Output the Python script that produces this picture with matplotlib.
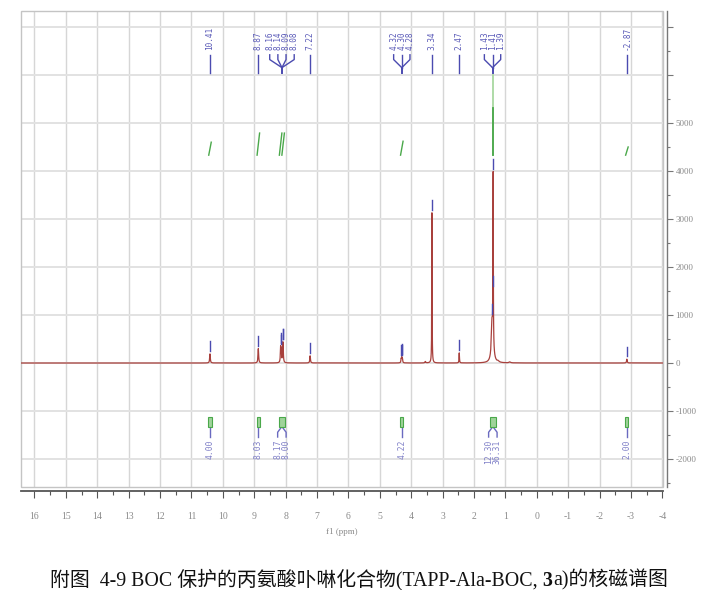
import numpy as np
import matplotlib
matplotlib.use("Agg")
import matplotlib.pyplot as plt
from matplotlib.patches import Rectangle
from matplotlib.ticker import MultipleLocator, FuncFormatter
from matplotlib.offsetbox import TextArea, HPacker, AnnotationBbox
import matplotlib.transforms as mtransforms

plt.rcParams["axes.unicode_minus"] = False

# ---------------- data ----------------
peak_ppm = [10.41, 8.87, 8.16, 8.14, 8.09, 8.08, 7.22, 4.32, 4.30, 4.28,
            3.55, 3.34, 2.47, 1.43, 1.41, 1.39, 1.23, 0.86, -2.87]
peak_height = [190, 300, 300, 250, 300, 230, 150, 80, 100, 80,
               30, 3130, 210, 450, 500, 3500, 25, 20, 80]
peak_gamma = [0.012, 0.012, 0.010, 0.010, 0.010, 0.010, 0.012, 0.010, 0.010, 0.010,
              0.015, 0.006, 0.008, 0.020, 0.040, 0.006, 0.03, 0.03, 0.012]

pick_groups = [["10.41"], ["8.87"], ["8.16", "8.14", "8.09", "8.08"], ["7.22"],
               ["4.32", "4.30", "4.28"], ["3.34"], ["2.47"],
               ["1.43", "1.41", "1.39"], ["-2.87"]]

integral_ppm = [10.41, 8.87, 8.16, 8.08, 4.30, 1.40, -2.87]
integral_rise = [270, 460, 460, 460, 290, 1670, 170]

region_ppm = [10.41, 8.87, 8.12, 4.30, 1.40, -2.87]
region_values = [["4.00"], ["8.03"], ["8.17", "8.00"], ["4.22"], ["12.30", "36.31"], ["2.00"]]

x_ticks = list(range(16, -5, -1))
y_ticks = list(range(-2000, 8000, 1000))

caption_a = "附图  4-9 BOC 保护的丙氨酸卟啉化合物(TAPP-Ala-BOC,"
caption_b = "3"
caption_c = "a)的核磁谱图"

# ---------------- figure ----------------
W, H = 713, 590
fig = plt.figure(figsize=(W / 100, H / 100), dpi=100)
ax = fig.add_axes([21 / W, 103 / H, 642 / W, 476 / H])

x = np.linspace(-4.3, 16.6, 42000)
y = np.zeros_like(x)
for p, h, g in zip(peak_ppm, peak_height, peak_gamma):
    y += h * g ** 2 / ((x - p) ** 2 + g ** 2)

ax.plot(x, y, color="#a8403c", lw=0.9, zorder=3)

ax.set_xlim(16.43, -4.02)
ax.set_ylim(-2583, 7333)

# grid
ax.xaxis.set_major_locator(MultipleLocator(1))
ax.xaxis.set_minor_locator(MultipleLocator(0.5))
ax.yaxis.set_major_locator(MultipleLocator(1000))
ax.yaxis.set_minor_locator(MultipleLocator(500))
ax.xaxis.grid(True, which="major", color="#d6d6d6", lw=1.0, zorder=0)
ax.yaxis.grid(True, which="major", color="#e2e2e2", lw=1.4, zorder=0)
ax.set_axisbelow(True)

# spines / frame
for s in ("top", "left"):
    ax.spines[s].set_visible(False)
ax.add_patch(Rectangle((0, 0), 1, 1, transform=ax.transAxes, fill=False,
                       ec="#c4c4c4", lw=1.0, clip_on=False, zorder=1))
ax.spines["bottom"].set_position(("outward", 3))
ax.spines["bottom"].set_color("#555555")
ax.spines["bottom"].set_linewidth(1.3)
ax.spines["right"].set_position(("outward", 3))
ax.spines["right"].set_color("#777777")
ax.spines["right"].set_linewidth(1.0)

ax.yaxis.tick_right()
ax.tick_params(axis="x", which="major", length=5, width=0.8, color="#555555",
               labelsize=7, labelcolor="#8a8a8a", pad=10)
ax.tick_params(axis="x", which="minor", length=3, width=0.8, color="#555555")
ax.tick_params(axis="y", which="major", length=4, width=0.8, color="#777777",
               labelsize=6.5, labelcolor="#8a8a8a", pad=2)
ax.tick_params(axis="y", which="minor", length=2.5, width=0.8, color="#777777")
ax.set_xticks(x_ticks)
ax.xaxis.set_major_formatter(FuncFormatter(lambda v, _: f"{int(round(v))}"))
ax.set_yticks(y_ticks)
ax.yaxis.set_major_formatter(FuncFormatter(lambda v, _: f"{int(round(v))}" if v <= 5000 else ""))
for lab in ax.get_xticklabels() + ax.get_yticklabels():
    lab.set_family("Liberation Serif")
ax.set_xlabel("f1 (ppm)", fontsize=6.5, color="#8a8a8a", labelpad=5, family="Liberation Serif")

trans = mtransforms.blended_transform_factory(ax.transData, ax.transAxes)
blue = "#4b4bb0"

# peak-pick ticks above peaks
for grp in pick_groups:
    for lab in grp:
        p = float(lab)
        i = np.argmin(np.abs(x - p))
        h = y[max(i - 20, 0):i + 20].max()
        ax.plot([p, p], [h + 60, h + 260], color=blue, lw=1.0, zorder=4)

# peak labels at top
spacing = 0.26
for grp in pick_groups:
    vals = [float(v) for v in grp]
    c = float(np.mean(vals))
    n = len(grp)
    for k, lab in enumerate(grp):
        lx = c + ((n - 1) / 2 - k) * spacing
        ax.text(lx, 0.918, lab, rotation=90, ha="center", va="bottom", transform=trans,
                fontsize=5.6, color="#5a5ab8", family="DejaVu Sans Mono")
        if n == 1:
            ax.plot([lx, lx], [0.908, 0.870], transform=trans, color=blue, lw=1.0)
        else:
            ax.plot([lx, lx, c], [0.908, 0.898, 0.881], transform=trans, color=blue, lw=1.0)
    if n > 1:
        ax.plot([c, c], [0.881, 0.870], transform=trans, color=blue, lw=1.4)

# integral curves (green)
base = 4330
for p, r in zip(integral_ppm, integral_rise):
    if r > 1000:
        ax.plot([p, p], [base, base + r], color="#a8d8a0", lw=1.3, zorder=2)
        ax.plot([p, p], [base, base + 980], color="#4aa84a", lw=1.3, zorder=2)
    else:
        ax.plot([p + 0.04, p - 0.04], [base, base + r], color="#4aa84a", lw=1.0, zorder=2)

# integration regions and values at bottom
green = "#4aa84a"
for p, vals in zip(region_ppm, region_values):
    w = 0.05 if len(vals) == 1 else 0.09
    ax.add_patch(Rectangle((p + w, 0.127), -2 * w, 0.02, transform=trans,
                           fc="#9fd39a", ec=green, lw=0.8, zorder=3))
    n = len(vals)
    if n == 1:
        ax.plot([p, p], [0.13, 0.105], transform=trans, color="#6a6ac0", lw=1.0)
        ax.text(p, 0.099, vals[0], rotation=90, ha="center", va="top", transform=trans,
                fontsize=5.8, color="#8080c8", family="DejaVu Sans Mono")
    else:
        for k, v in enumerate(vals):
            lx = p + ((n - 1) / 2 - k) * 0.27
            ax.plot([p, lx, lx], [0.127, 0.115, 0.105], transform=trans, color="#6a6ac0", lw=1.0)
            ax.text(lx, 0.099, v, rotation=90, ha="center", va="top", transform=trans,
                    fontsize=5.8, color="#8080c8", family="DejaVu Sans Mono")

# caption
fam = ["Liberation Serif", "Noto Sans CJK SC"]
fs = 14.3
ta = TextArea(caption_a, textprops=dict(fontsize=fs, family=fam, color="#111111"))
tb = TextArea(caption_b, textprops=dict(fontsize=fs, family=fam, weight="bold", color="#111111"))
tc = TextArea(caption_c, textprops=dict(fontsize=fs, family=fam, color="#111111"))
inner = HPacker(children=[ta, tb], sep=3.5, pad=0, align="baseline")
outer = HPacker(children=[inner, tc], sep=0.4, pad=0, align="baseline")
ab = AnnotationBbox(outer, (359 / W, 10 / H), xycoords="figure fraction",
                    box_alignment=(0.5, 0.5), frameon=False)
fig.add_artist(ab)

fig.savefig("out.png", dpi=100)
